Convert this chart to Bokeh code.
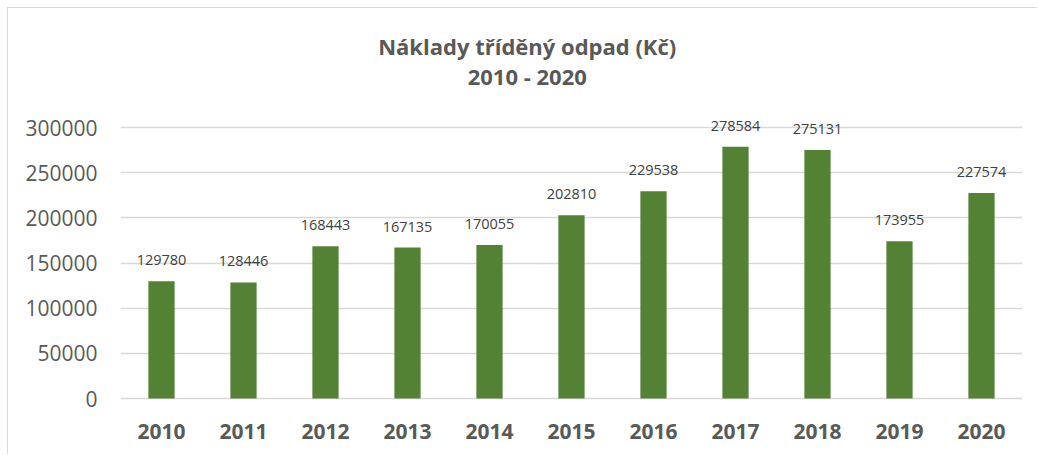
from bokeh.plotting import figure
from bokeh.models import ColumnDataSource, FactorRange, Range1d, LabelSet, Label, FixedTicker, NumeralTickFormatter
from bokeh.core.properties import value
from bokeh.embed import file_html
from bokeh.resources import INLINE

years = ["2010", "2011", "2012", "2013", "2014", "2015", "2016", "2017", "2018", "2019", "2020"]
costs = [129780, 128446, 168443, 167135, 170055, 202810, 229538, 278584, 275131, 173955, 227574]
y_ticks = [0, 50000, 100000, 150000, 200000, 250000, 300000]
title_lines = ["Náklady tříděný odpad (Kč)", "2010 - 2020"]

FONT = "Open Sans"
GRAY = "#595959"

src = ColumnDataSource(dict(year=years, cost=costs, lbl=[str(c) for c in costs]))

PX = 300000 / 271.0  # data units per pixel
p = figure(x_range=FactorRange(*years, range_padding=0),
           y_range=Range1d(-2 * PX, 380 * PX),
           width=1030, height=447, output_backend="svg", toolbar_location=None,
           min_border_left=112, min_border_right=16, min_border_top=10, min_border_bottom=55)
p.styles = {"margin-left": "7px", "margin-top": "7px",
            "border-left": "1px solid #d9d9d9", "border-top": "1px solid #d9d9d9"}
p.outline_line_color = None
p.background_fill_color = "white"
p.border_fill_color = "white"

p.vbar(x="year", top="cost", width=0.32, source=src, color="#548235", line_color=None)

p.add_layout(LabelSet(x="year", y="cost", text="lbl", source=src, text_align="center",
                      text_baseline="bottom", y_offset=16, text_font=value(FONT),
                      text_font_size=value("14.5px"), text_color=value("#404040")))

p.xgrid.grid_line_color = None
p.ygrid.grid_line_color = "#d9d9d9"
p.ygrid.grid_line_width = 1.5
p.yaxis.ticker = FixedTicker(ticks=y_ticks)
p.yaxis.formatter = NumeralTickFormatter(format="0")
for ax in (p.xaxis, p.yaxis):
    ax.axis_line_color = None
    ax.major_tick_line_color = None
    ax.minor_tick_line_color = None
    ax.major_label_text_color = GRAY
    ax.major_label_text_font = FONT
    ax.major_label_text_font_size = "21px"
p.yaxis.major_label_standoff = 17
p.xaxis.major_label_standoff = 17
p.xaxis.major_label_text_font_style = "bold"

for txt, yv in zip(title_lines, [389700, 357500]):
    p.add_layout(Label(x=4.96, y=yv, text=txt, text_align="center", text_baseline="middle",
                       text_font=FONT, text_font_size="22px", text_font_style="bold",
                       text_color=GRAY))

open("out.html", "w").write(file_html(p, INLINE))
